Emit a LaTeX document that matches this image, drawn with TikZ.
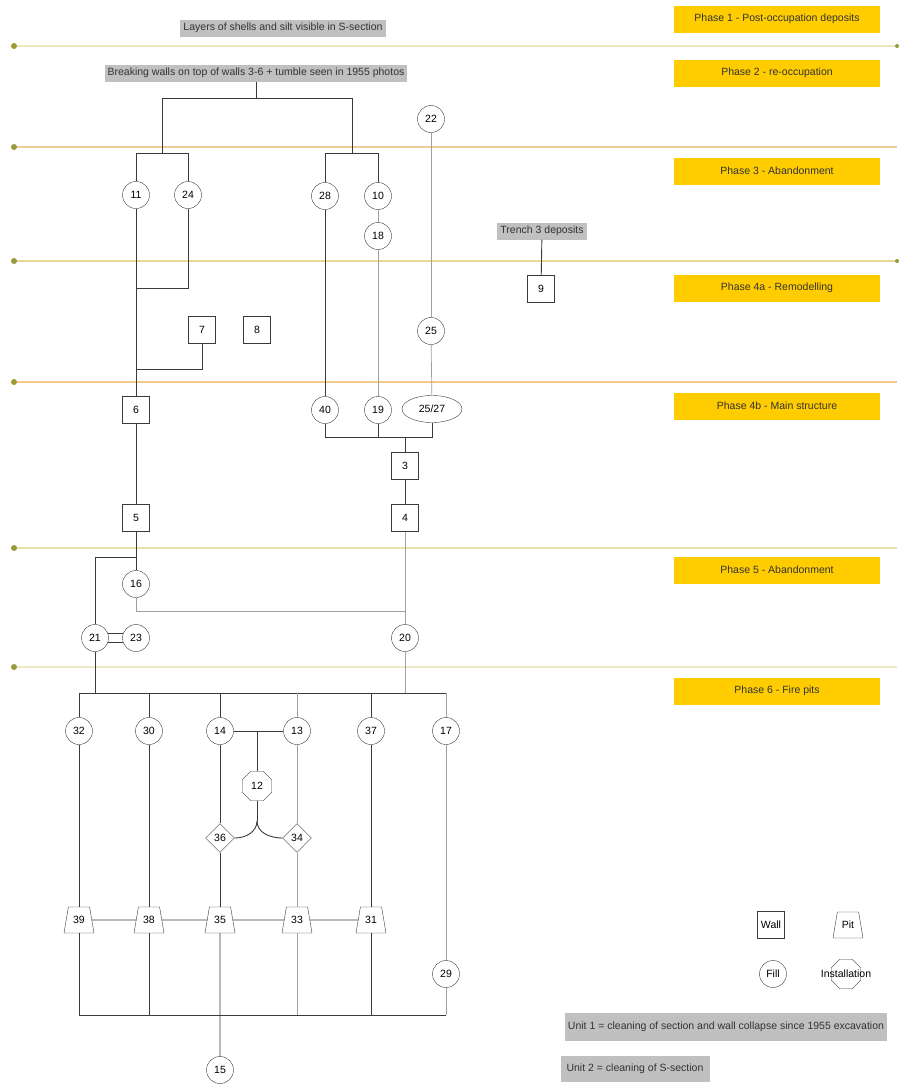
\documentclass[tikz,border=0pt]{standalone}
\usepackage{fontspec}
\setmainfont{Liberation Sans}
\usepackage{tikz}
\usetikzlibrary{shapes.geometric}

\definecolor{phasegold}{HTML}{FFCC00}
\definecolor{notegray}{HTML}{C0C0C0}
\definecolor{linedark}{HTML}{3A3A3A}
\definecolor{linelight}{HTML}{A0A0A0}
\definecolor{dotolive}{HTML}{9A9A38}

\begin{document}
\begin{tikzpicture}[
    x=1pt, y=-1pt,
    font=\fontsize{10.5}{12}\selectfont,
    phase/.style={rectangle, fill=phasegold, text=black!80, minimum width=206pt, minimum height=27pt, inner sep=1pt},
    note/.style={rectangle, fill=notegray, text=black!80, minimum height=17pt, inner xsep=3pt, inner ysep=1pt},
    fill unit/.style={circle, draw=linedark, fill=white, minimum size=27pt, inner sep=0pt},
    wall/.style={rectangle, draw=linedark, fill=white, minimum size=27pt, inner sep=0pt},
    pit/.style={trapezium, trapezium left angle=72, trapezium right angle=72, trapezium stretches=true, draw=linedark, fill=white, minimum width=30pt, minimum height=26pt, inner sep=0pt},
    cut/.style={diamond, draw=linedark, fill=white, minimum size=29pt, inner sep=0pt},
    install/.style={regular polygon, regular polygon sides=8, draw=linedark, fill=white, minimum size=32pt, inner sep=0pt},
    dk/.style={draw=linedark, line width=0.9pt},
    lt/.style={draw=linelight, line width=0.7pt},
    boundary/.style={line width=1.8pt}
]
    \useasboundingbox (0,0) rectangle (902,1084);

    % Phase boundaries
    \foreach \y/\c in {46/F0E6BE, 147/F2CC98, 261/EAD796, 382/F2C88C, 548/E4E2A6, 667/EEEAC8} {
        \definecolor{bcol}{HTML}{\c}
        \draw[boundary, bcol] (14,\y) -- (897,\y);
        \fill[dotolive] (14,\y) circle (3pt);
    }
    \fill[dotolive] (897,46) circle (2pt);
    \fill[dotolive] (897,261) circle (2pt);

    % Phase labels
    \node[phase] (p1) at (777,19) {Phase 1 - Post-occupation deposits};
    \node[phase] (p2) at (777,73) {Phase 2 - re-occupation};
    \node[phase] (p3) at (777,171) {Phase 3 - Abandonment};
    \node[phase] (p4a) at (777,288) {Phase 4a - Remodelling};
    \node[phase] (p4b) at (777,406) {Phase 4b - Main structure};
    \node[phase] (p5) at (777,570) {Phase 5 - Abandonment};
    \node[phase] (p6) at (777,691) {Phase 6 - Fire pits};

    % Notes
    \node[note] (shells) at (283,28) {Layers of shells and silt visible in S-section};
    \node[note] (brk) at (256,73) {Breaking walls on top of walls 3-6 + tumble seen in 1955 photos};
    \node[note] (tr3) at (542,231) {Trench 3 deposits};
    \node[note, minimum height=28pt] (unit1) at (726,1027) {Unit 1 = cleaning of section and wall collapse since 1955 excavation};
    \node[note, minimum height=26pt, minimum width=149pt] (unit2) at (635,1069) {Unit 2 = cleaning of S-section};

    % Phases 2-3
    \node[fill unit] (n22) at (431,119) {22};
    \node[fill unit] (n11) at (136,195) {11};
    \node[fill unit] (n24) at (188,195) {24};
    \node[fill unit] (n28) at (325,196) {28};
    \node[fill unit] (n10) at (378,196) {10};
    \node[fill unit] (n18) at (378,236) {18};

    % Phase 4a
    \node[wall] (n9) at (541,289) {9};
    \node[wall] (n7) at (202,330) {7};
    \node[wall] (n8) at (257,330) {8};
    \node[fill unit] (n25) at (431,331) {25};

    % Phase 4b
    \node[wall] (n6) at (136,410) {6};
    \node[fill unit] (n40) at (325,410) {40};
    \node[fill unit] (n19) at (378,410) {19};
    \node[ellipse, draw=linedark, fill=white, minimum width=60pt, minimum height=27pt, inner sep=0pt] (n2527) at (432,409) {25/27};
    \node[wall] (n3) at (405,466) {3};
    \node[wall] (n4) at (405,518) {4};
    \node[wall] (n5) at (136,518) {5};

    % Phase 5
    \node[fill unit] (n16) at (136,584) {16};
    \node[fill unit] (n21) at (95,638) {21};
    \node[fill unit] (n23) at (136,638) {23};
    \node[fill unit] (n20) at (405,638) {20};

    % Phase 6
    \node[fill unit] (n32) at (79,731) {32};
    \node[fill unit] (n30) at (149,731) {30};
    \node[fill unit] (n14) at (220,731) {14};
    \node[fill unit] (n13) at (297,731) {13};
    \node[fill unit] (n37) at (371,731) {37};
    \node[fill unit] (n17) at (446,731) {17};
    \node[install] (n12) at (257,786) {12};
    \node[cut] (n36) at (220,838) {36};
    \node[cut] (n34) at (297,838) {34};
    \node[pit] (n39) at (79,920) {39};
    \node[pit] (n38) at (149,920) {38};
    \node[pit] (n35) at (220,920) {35};
    \node[pit] (n33) at (297,920) {33};
    \node[pit] (n31) at (371,920) {31};
    \node[fill unit] (n29) at (446,974) {29};
    \node[fill unit] (n15) at (220,1070) {15};

    % Key
    \node[wall] (kwall) at (771,925) {Wall};
    \node[pit] (kpit) at (848,925) {Pit};
    \node[fill unit] (kfill) at (773,974) {Fill};
    \node[install, label=center:Installation] (kinst) at (846,974) {};

    % Junctions
    \coordinate (jtop) at (256,98);
    \coordinate (jA) at (162,153);
    \coordinate (jB) at (352,153);
    \coordinate (jC) at (136,288);
    \coordinate (jD) at (136,369);
    \coordinate (jE) at (405,437);
    \coordinate (jF) at (136,557);
    \coordinate (jG) at (405,611);
    \coordinate (busL) at (79,693);
    \coordinate (busR) at (446,693);
    \coordinate (jI) at (257,731);
    \coordinate (jJ) at (257,821);
    \coordinate (botL) at (79,1015);
    \coordinate (botR) at (446,1015);

    % Draw connections
    \draw[dk] (brk) -- (jtop);
    \draw[dk] (jtop) -| (jA);
    \draw[dk] (jtop) -| (jB);
    \draw[dk] (jA) -| (n11);
    \draw[dk] (jA) -| (n24);
    \draw[dk] (jB) -| (n28);
    \draw[dk] (jB) -| (n10);
    \draw[dk] (n11) -- (n6);
    \draw[dk] (n24) |- (jC);
    \draw[dk] (n7) |- (jD);
    \draw[dk] (n28) -- (n40);
    \draw[lt] (n10) -- (n18);
    \draw[lt] (n18) -- (n19);
    \draw[lt] (n22) -- (n25);
    \draw[lt] (n25) -- (n2527);
    \draw[dk] (n40) |- (jE);
    \draw[dk] (n19) |- (jE);
    \draw[dk] (n2527.south) |- (jE);
    \draw[dk] (jE) -- (n3);
    \draw[dk] (n3) -- (n4);
    \draw[lt] (n4) -- (n20);
    \draw[dk] (n6) -- (n5);
    \draw[dk] (n5) -- (n16);
    \draw[dk] (jF) -| (n21);
    \draw[lt] (n16) |- (jG);
    \draw[dk] (n21.18) -- (n23.162);
    \draw[dk] (n21.-18) -- (n23.-162);
    \draw[dk] (tr3) -- (n9);

    % Fire pits
    \draw[dk] (n21) -- (n21 |- busL);
    \draw[lt] (n20) -- (n20 |- busL);
    \draw[dk] (busL) -- (busR);
    \draw[dk] (busL) -- (n32);
    \draw[dk] (n30 |- busL) -- (n30);
    \draw[dk] (n14 |- busL) -- (n14);
    \draw[lt] (n13 |- busL) -- (n13);
    \draw[dk] (n37 |- busL) -- (n37);
    \draw[lt] (busR) -- (n17);
    \draw[dk] (n14) -- (n13);
    \draw[dk] (jI) -- (n12);
    \draw[dk] (n12) -- (jJ);
    \draw[dk] (jJ) to[out=-90, in=0] (n36.east);
    \draw[dk] (jJ) to[out=-90, in=180] (n34.west);
    \draw[dk] (n14) -- (n36);
    \draw[dk] (n36) -- (n35);
    \draw[lt] (n13) -- (n34);
    \draw[lt] (n34) -- (n33);
    \draw[dk] (n32) -- (n39);
    \draw[dk] (n30) -- (n38);
    \draw[dk] (n37) -- (n31);
    \draw[lt] (n17) -- (n29);
    \draw[dk] (n39) -- (n38);
    \draw[dk] (n38) -- (n35);
    \draw[dk] (n35) -- (n33);
    \draw[dk] (n33) -- (n31);
    \draw[dk] (botL) -- (botR);
    \draw[dk] (n39) -- (botL);
    \draw[dk] (n38) -- (n38 |- botL);
    \draw[dk] (n35) -- (n15);
    \draw[lt] (n33) -- (n33 |- botL);
    \draw[dk] (n31) -- (n31 |- botL);
    \draw[lt] (n29) -- (botR);

\end{tikzpicture}
\end{document}
